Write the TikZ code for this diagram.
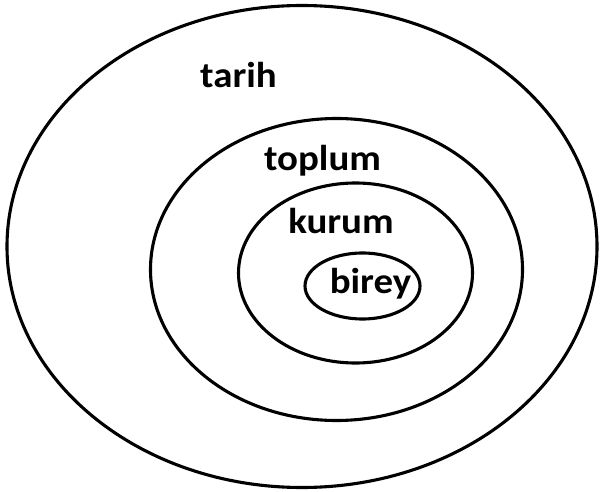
\documentclass[tikz,border=0pt]{standalone}
\usepackage{fontspec}
\setmainfont{Carlito}
\begin{document}
\begin{tikzpicture}[x=1pt,y=-1pt,
  ring/.style={draw=black,line width=3.1pt},
  lbl/.style={font=\bfseries\fontsize{36}{36}\selectfont,anchor=base,inner sep=0pt,xscale=1.08}]
\useasboundingbox[fill=white] (0,0) rectangle (602,492);
\draw[ring] (302,246.5) ellipse [x radius=295, y radius=241];
\draw[ring] (336.5,269.5) ellipse [x radius=186, y radius=151];
\draw[ring] (355.5,273) ellipse [x radius=117, y radius=90];
\draw[ring] (362.5,286) ellipse [x radius=57.5, y radius=33];
\node[lbl] (tarih) at (238.5,88) {tarih};
\node[lbl] (toplum) at (322.5,170) {toplum};
\node[lbl] (kurum) at (341,233) {kurum};
\node[lbl] (birey) at (370.5,293) {birey};
\end{tikzpicture}
\end{document}
